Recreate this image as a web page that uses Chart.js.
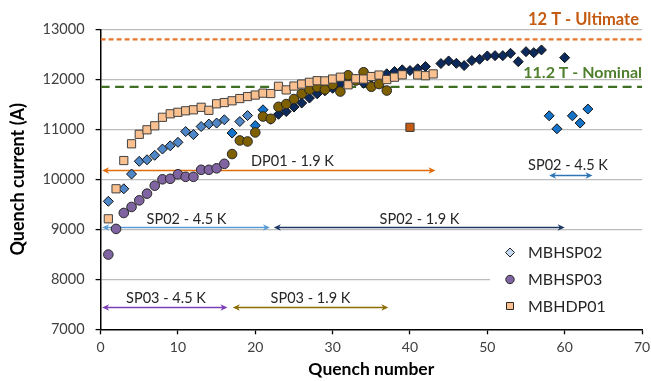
<!DOCTYPE html>
<html><head><meta charset="utf-8">
<script src="https://cdn.jsdelivr.net/npm/chart.js@4"></script>
<style>html,body{margin:0;padding:0;background:#fff}</style>
</head><body>
<canvas id="c" width="651" height="381" style="width:651px;height:381px;display:block"></canvas>
<script>
// ---- tick labels ----
const xTicks = [0, 10, 20, 30, 40, 50, 60, 70];
const yTicks = [7000, 8000, 9000, 10000, 11000, 12000, 13000];

// ---- MBHSP02 ----
const sp02_45_x = [1, 3, 4, 5, 6, 7, 8, 9, 10, 11, 12, 13, 14, 15, 16, 18, 19];
const sp02_45_y = [9560, 9810, 10105, 10360, 10390, 10480, 10605, 10670, 10740, 10955, 10895, 11055, 11105, 11125, 11190, 11155, 11275];
const sp02_45b_x = [17, 20, 21, 58, 59, 61, 62, 63];
const sp02_45b_y = [10925, 11075, 11390, 11270, 11010, 11270, 11125, 11405];
const sp02_19_x = [22, 23, 24, 25, 26, 27, 28, 29, 30, 31, 32, 33, 34, 35, 36, 37, 38, 39, 40, 41, 42, 44, 45, 46, 47, 48, 49, 50, 51, 52, 53, 54, 55, 56, 57, 60];
const sp02_19_y = [11200, 11300, 11355, 11445, 11525, 11625, 11710, 11770, 11820, 11900, 11950, 12000, 11920, 12030, 12060, 12110, 12155, 12190, 12175, 12210, 12255, 12315, 12367, 12320, 12275, 12375, 12400, 12467, 12473, 12473, 12520, 12353, 12553, 12533, 12587, 12433];

// ---- MBHSP03 ----
const sp03_45_x = [1, 2, 3, 4, 5, 6, 7, 8, 9, 10, 11, 12, 13, 14, 15, 16];
const sp03_45_y = [8495, 9008, 9327, 9447, 9579, 9713, 9872, 10000, 10010, 10100, 10050, 10050, 10190, 10190, 10220, 10310];
const sp03_19_x = [17, 18, 19, 20, 21, 22, 23, 24, 25, 26, 27, 28, 29, 30, 31, 32, 33, 34, 35, 36, 37];
const sp03_19_y = [10505, 10777, 10757, 10937, 11256, 11210, 11450, 11505, 11605, 11710, 11795, 11842, 11795, 11890, 11755, 12080, 11975, 12141, 11850, 11905, 11775];

// ---- MBHDP01 ----
const dp01_x = [1, 2, 3, 4, 5, 6, 7, 8, 9, 10, 11, 12, 13, 14, 15, 16, 17, 18, 19, 20, 21, 22, 23, 24, 25, 26, 27, 28, 29, 30, 31, 32, 33, 34, 35, 36, 37, 38, 39, 41, 42, 43];
const dp01_y = [9210, 9810, 10375, 10710, 10900, 10990, 11070, 11240, 11310, 11340, 11370, 11390, 11440, 11380, 11510, 11535, 11570, 11615, 11655, 11685, 11723, 11715, 11860, 11788, 11865, 11905, 11940, 11972, 11968, 12005, 12042, 11890, 12010, 12005, 12055, 12085, 11995, 12042, 12090, 12088, 12072, 12108];
const dp01b_x = [40];
const dp01b_y = [11040];

// ---- reference levels ----
const levelX = [0, 70];
const ultimateY = [12800, 12800];
const nominalY = [11850, 11850];

// ---- campaign arrows: [label, xStart, xEnd, yLevel] ----
const arrowLabels = ['DP01 - 1.9 K', 'SP02 - 4.5 K', 'SP02 - 4.5 K', 'SP02 - 1.9 K', 'SP03 - 4.5 K', 'SP03 - 1.9 K'];
const arrowStart = [0, 57.8, 0, 22.2, 0, 16.9];
const arrowEnd = [43.3, 63.6, 21.9, 60, 16.4, 37.2];
const arrowLevel = [10190, 10090, 9040, 9040, 7440, 7440];

const arrowStyle = [
  {color: '#e36c0a', tx: 292.5, ty: 161},
  {color: '#2e75b6', tx: 568, ty: 165},
  {color: '#5b9bd5', tx: 186.5, ty: 219.5},
  {color: '#1f3864', tx: 419.5, ty: 219.5},
  {color: '#7d3fb8', tx: 166, ty: 298.5},
  {color: '#8c6d00', tx: 310.5, ty: 298.5}
];

function pts(xs, ys) { return xs.map((x, i) => ({x: x, y: ys[i]})); }

const FONT = 'Lato, "Open Sans", sans-serif';

const annot = {
  id: 'annot',
  beforeDatasetsDraw(chart) {
    const ctx = chart.ctx, xs = chart.scales.x, ys = chart.scales.y;
    ctx.save();
    ctx.fillStyle = '#fff';
    ctx.fillRect(490, 236, 152, 92);
    for (let i = 0; i < arrowLabels.length; i++) {
      const st = arrowStyle[i];
      const x1 = xs.getPixelForValue(arrowStart[i]) + 1.5;
      const x2 = xs.getPixelForValue(arrowEnd[i]);
      const y = Math.round(ys.getPixelForValue(arrowLevel[i])) + 0.5;
      ctx.strokeStyle = st.color; ctx.fillStyle = st.color; ctx.lineWidth = 1.5;
      ctx.beginPath(); ctx.moveTo(x1 + 3, y); ctx.lineTo(x2 - 3, y); ctx.stroke();
      ctx.beginPath(); ctx.moveTo(x1, y); ctx.lineTo(x1 + 7, y - 3.2); ctx.lineTo(x1 + 5, y); ctx.lineTo(x1 + 7, y + 3.2); ctx.closePath(); ctx.fill();
      ctx.beginPath(); ctx.moveTo(x2, y); ctx.lineTo(x2 - 7, y - 3.2); ctx.lineTo(x2 - 5, y); ctx.lineTo(x2 - 7, y + 3.2); ctx.closePath(); ctx.fill();
      ctx.fillStyle = '#262626';
      ctx.font = '14.5px ' + FONT;
      ctx.textAlign = 'center'; ctx.textBaseline = 'middle';
      ctx.fillText(arrowLabels[i], st.tx, st.ty);
    }
    ctx.restore();
  },
  afterDatasetsDraw(chart) {
    const ctx = chart.ctx;
    ctx.save();
    ctx.textAlign = 'right'; ctx.textBaseline = 'middle';
    ctx.font = 'bold 16.5px ' + FONT;
    ctx.fillStyle = '#c55a11';
    ctx.fillText('12 T - Ultimate', 639, 20);
    ctx.font = 'bold 16px ' + FONT;
    ctx.fillStyle = '#4f7f2c';
    ctx.fillText('11.2 T - Nominal', 642, 73);
    const items = [
      {t: 'MBHSP02', shape: 'diamond', fill: '#c6d9f1', y: 252.5},
      {t: 'MBHSP03', shape: 'circle', fill: '#8064a2', y: 279.5},
      {t: 'MBHDP01', shape: 'square', fill: '#fac090', y: 306}
    ];
    ctx.textAlign = 'left';
    ctx.font = '16px ' + FONT;
    for (const it of items) {
      const cx = 510, cy = it.y;
      ctx.fillStyle = it.fill; ctx.strokeStyle = '#262626'; ctx.lineWidth = 1;
      ctx.beginPath();
      if (it.shape === 'diamond') { ctx.moveTo(cx, cy - 4.5); ctx.lineTo(cx + 4.5, cy); ctx.lineTo(cx, cy + 4.5); ctx.lineTo(cx - 4.5, cy); ctx.closePath(); }
      else if (it.shape === 'circle') { ctx.arc(cx, cy, 4.2, 0, Math.PI * 2); }
      else { ctx.rect(cx - 3.5, cy - 3.5, 7, 7); }
      ctx.fill(); ctx.stroke();
      ctx.fillStyle = '#262626';
      ctx.fillText(it.t, 528, cy + 0.5);
    }
    ctx.restore();
  }
};

const mk = (label, xs, ys, shape, r, fill, border, order) => ({
  label: label, data: pts(xs, ys), pointStyle: shape, pointRadius: r, pointHoverRadius: r,
  backgroundColor: fill, borderColor: border, borderWidth: 1, showLine: false, order: order
});

new Chart(document.getElementById('c'), {
  type: 'scatter',
  data: {
    datasets: [
      mk('MBHDP01 b', dp01b_x, dp01b_y, 'rect', 5.8, '#c55a11', '#3a3a3a', 1),
      mk('MBHDP01', dp01_x, dp01_y, 'rect', 5.8, '#fac090', '#404040', 1),
      mk('MBHSP03 1.9K', sp03_19_x, sp03_19_y, 'circle', 4.8, '#7f6000', '#262626', 2),
      mk('MBHSP03 4.5K', sp03_45_x, sp03_45_y, 'circle', 4.8, '#8064a2', '#262626', 2),
      mk('MBHSP02 1.9K', sp02_19_x, sp02_19_y, 'rectRot', 5, '#0c2a5b', '#111', 3),
      mk('MBHSP02 4.5K b', sp02_45b_x, sp02_45b_y, 'rectRot', 5, '#1473c8', '#111', 3),
      mk('MBHSP02 4.5K', sp02_45_x, sp02_45_y, 'rectRot', 5, '#4f86c6', '#111', 3),
      {label: 'Ultimate', data: pts(levelX, ultimateY), showLine: true, pointRadius: 0, borderColor: '#e8762d', borderWidth: 2.2, borderDash: [5, 3], order: 4},
      {label: 'Nominal', data: pts(levelX, nominalY), showLine: true, pointRadius: 0, borderColor: '#3f6f22', borderWidth: 2.2, borderDash: [9, 5.5], order: 4}
    ]
  },
  options: {
    responsive: false, animation: false, devicePixelRatio: 1,
    layout: {padding: {left: 0, top: 29.3, right: 9, bottom: 0}},
    plugins: {legend: {display: false}, tooltip: {enabled: false}},
    scales: {
      x: {
        type: 'linear', min: 0, max: 70,
        afterBuildTicks: s => { s.ticks = xTicks.map(v => ({value: v})); },
        afterFit: s => { s.height = 381 - 329.3; s.paddingRight = 0; s.paddingLeft = 0; },
        grid: {drawOnChartArea: false, drawTicks: true, tickLength: 5, tickColor: '#000', tickWidth: 1.3},
        border: {color: '#000', width: 1.5},
        ticks: {color: '#404040', font: {family: FONT, size: 14}, padding: 5, maxRotation: 0, callback: v => String(v)},
        title: {display: true, text: 'Quench number', color: '#000', font: {family: FONT, size: 17.5, weight: 'bold'}, padding: {top: 0, bottom: 1}}
      },
      y: {
        min: 7000, max: 13000,
        afterBuildTicks: s => { s.ticks = yTicks.map(v => ({value: v})); },
        afterFit: s => { s.width = 100.6; },
        grid: {color: c => (c.tick && c.tick.value === 7000) ? 'rgba(0,0,0,0)' : '#bcbcbc', lineWidth: 1.2, drawTicks: true, tickLength: 5, tickColor: '#000', tickWidth: 1.3},
        border: {color: '#000', width: 1.5},
        ticks: {color: '#404040', font: {family: FONT, size: 14.5}, padding: 11, callback: v => String(v)},
        title: {display: true, text: 'Quench current (A)', color: '#000', font: {family: FONT, size: 18, weight: 'bold'}, padding: {top: 7, bottom: 0}}
      }
    }
  },
  plugins: [annot]
});
</script>
</body></html>
